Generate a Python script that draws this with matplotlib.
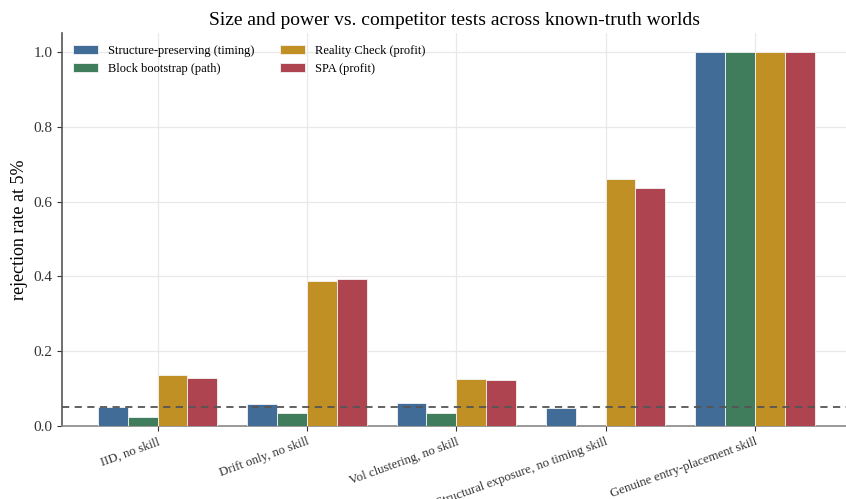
import matplotlib
matplotlib.use("Agg")
import matplotlib.pyplot as plt
import numpy as np

plt.rcParams['font.family'] = ['Liberation Serif', 'DejaVu Serif']

categories = ["IID, no skill", "Drift only, no skill", "Vol clustering, no skill",
              "Structural exposure, no timing skill", "Genuine entry-placement skill"]
series_names = ["Structure-preserving (timing)", "Block bootstrap (path)",
                "Reality Check (profit)", "SPA (profit)"]
structure_preserving = [0.052, 0.060, 0.062, 0.049, 1.0]
block_bootstrap = [0.024, 0.036, 0.035, 0.0, 1.0]
reality_check = [0.136, 0.388, 0.125, 0.660, 1.0]
spa = [0.128, 0.393, 0.122, 0.636, 1.0]
alpha_level = 0.05

colors = ["#416c98", "#3f7d5c", "#c09024", "#ad4450"]

fig = plt.figure(figsize=(8.46, 4.99), dpi=100)
ax = fig.add_axes([62/846, 1-426/499, (846-62)/846, (426-33.3)/499])

x = np.arange(len(categories))
w = 0.2
all_series = [structure_preserving, block_bootstrap, reality_check, spa]
for i, (vals, name, c) in enumerate(zip(all_series, series_names, colors)):
    ax.bar(x + (i - 1.5) * w, vals, width=w, color=c, label=name,
           edgecolor='#f4f4f4', linewidth=0.6, zorder=3)

ax.axhline(alpha_level, color='#555555', linestyle=(0, (4, 3)), linewidth=1.3, zorder=4)

ax.set_ylim(0, 1.05)
ax.set_xlim(-0.64, 4.61)
ax.set_xticks(x)
ax.set_xticklabels(categories, rotation=20, ha='right', rotation_mode='anchor', fontsize=9.3)
ax.tick_params(axis='y', labelsize=11, colors='#333333')
ax.tick_params(axis='x', colors='#333333')
ax.set_ylabel("rejection rate at 5%", fontsize=13)
ax.set_title("Size and power vs. competitor tests across known-truth worlds", fontsize=14, pad=6)
ax.grid(True, color='#e8e8e8', linewidth=0.9, zorder=0)
ax.set_axisbelow(True)
for s in ['top', 'right']:
    ax.spines[s].set_visible(False)
ax.spines['left'].set_color('#555555')
ax.spines['bottom'].set_color('#888888')
ax.spines['left'].set_linewidth(1.2)
ax.spines['bottom'].set_linewidth(1.2)

ax.legend(loc='upper left', ncol=2, frameon=False, fontsize=9, columnspacing=2.0,
          handlelength=2.0, handletextpad=0.8, bbox_to_anchor=(0.0, 1.0))

fig.savefig("out.png", dpi=100)
